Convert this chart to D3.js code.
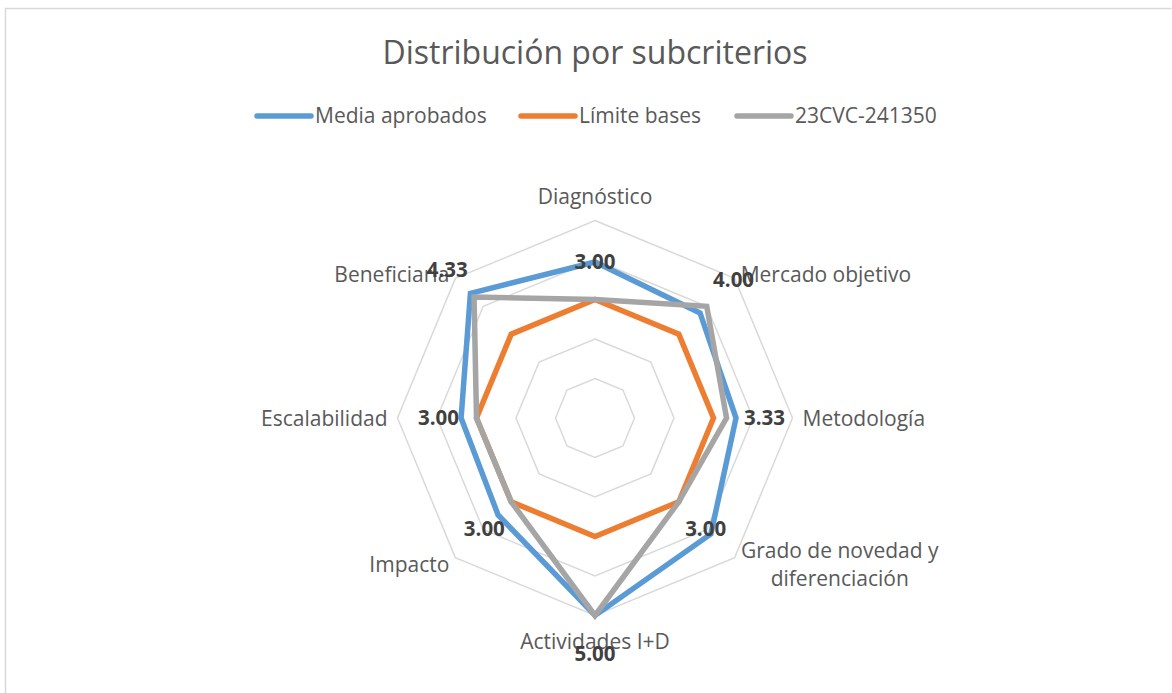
<!DOCTYPE html>
<html>
<head>
<meta charset="utf-8">
<script src="https://cdn.jsdelivr.net/npm/d3@7"></script>
<style>
  body { margin:0; background:#fff; }
  svg text { font-family: "Open Sans", "Noto Sans", sans-serif; }
</style>
</head>
<body>
<div class="svgContainer"></div>
<script>
// categories go clockwise starting at the top
var categories = ["Diagnóstico", "Mercado objetivo", "Metodología", "Grado de novedad y\ndiferenciación",
                  "Actividades I+D", "Impacto", "Escalabilidad", "Beneficiaria"];
var seriesNames  = ["Media aprobados", "Límite bases", "23CVC-241350"];
var mediaAprobados = [3.95, 3.76, 3.57, 4.15, 5.00, 3.47, 3.39, 4.46];
var limiteBases    = [3, 3, 3, 3, 3, 3, 3, 3];
var proyecto       = [3.00, 4.00, 3.33, 3.00, 5.00, 3.00, 3.00, 4.33];
var ringTicks  = [1, 2, 3, 4, 5];
var colors     = ["#5b9bd5", "#ed7d31", "#a5a5a5"];

var width = 1172, height = 693;
var cx = 595, cy = 418, outerR = 197.5;

var svg = d3.select(".svgContainer").append("svg")
  .attr("width", width).attr("height", height);

// chart frame
svg.append("path")
  .attr("d", "M5.5," + height + "V8.5H" + (width - 0.5))
  .attr("fill", "none").attr("stroke", "#d9d9d9").attr("stroke-width", 1.5);

var r = d3.scaleLinear().domain([0, 5]).range([0, outerR]);
var angle = d3.scalePoint().domain(d3.range(categories.length)).range([0, 2 * Math.PI * 7 / 8]);

function px(i, rad) { return cx + rad * Math.sin(angle(i)); }
function py(i, rad) { return cy - rad * Math.cos(angle(i)); }

// grid rings (no spokes in the original)
var ring = d3.lineRadial().curve(d3.curveLinearClosed);
svg.append("g").attr("transform", "translate(" + cx + "," + cy + ")")
  .selectAll("path").data(ringTicks).enter().append("path")
  .attr("d", function(t){ return ring(categories.map(function(c, i){ return [angle(i), r(t)]; })); })
  .attr("fill", "none").attr("stroke", "#d9d9d9").attr("stroke-width", 1.5);

// series
var allSeries = [mediaAprobados, limiteBases, proyecto];
svg.append("g").attr("transform", "translate(" + cx + "," + cy + ")")
  .selectAll("path").data(allSeries).enter().append("path")
  .attr("d", function(s){ return ring(s.map(function(v, i){ return [angle(i), r(v)]; })); })
  .attr("fill", "none")
  .attr("stroke", function(d, i){ return colors[i]; })
  .attr("stroke-width", 5.5)
  .attr("stroke-linejoin", "miter");

// category labels, placed just outside the outer ring
categories.forEach(function(c, i){
  var s = Math.sin(angle(i)), co = Math.cos(angle(i));
  var vx = px(i, outerR), vy = py(i, outerR);
  var anchor = s > 0.1 ? "start" : (s < -0.1 ? "end" : "middle");
  var x = vx + (s > 0.1 ? 6 : (s < -0.1 ? -6 : 0)) + (Math.abs(s) > 0.9 ? 4 * Math.sign(s) : 0);
  var midY;
  if (co > 0.9) midY = vy - 24;
  else if (co < -0.9) midY = vy + 26;
  else if (co > 0.1) midY = vy - 4;
  else if (co < -0.1) midY = vy + 7;
  else midY = vy + 1;
  var lines = c.split("\n");
  var t = svg.append("text")
    .attr("fill", "#595959").attr("font-size", 21)
    .attr("text-anchor", lines.length > 1 ? "middle" : anchor);
  lines.forEach(function(l, k){
    t.append("tspan").attr("x", x).attr("y", midY + (k - (lines.length - 1) / 2) * 28)
      .attr("dy", "0.35em").text(l);
  });
  if (lines.length > 1) {
    // multi-line labels are centred as a block whose left edge sits by the vertex
    var w = t.node().getBBox().width;
    t.selectAll("tspan").attr("x", x + w / 2);
  }
});

// data labels for the 23CVC series
svg.append("g").selectAll("text").data(proyecto).enter().append("text")
  .attr("x", function(v, i){ return px(i, r(v) + 38); })
  .attr("y", function(v, i){ return py(i, r(v) + 38); })
  .attr("dy", "0.35em")
  .attr("text-anchor", "middle")
  .attr("font-size", 20.5).attr("font-weight", "bold").attr("fill", "#404040")
  .text(function(v){ return v.toFixed(2); });

// title
svg.append("text").attr("x", cx).attr("y", 53).attr("dy", "0.35em")
  .attr("text-anchor", "middle").attr("font-size", 32).attr("fill", "#595959")
  .text("Distribución por subcriterios");

// legend
var legendX = [257, 521, 737];
var legend = svg.append("g").selectAll("g").data(seriesNames).enter().append("g")
  .attr("transform", function(d, i){ return "translate(" + legendX[i] + ",116)"; });
legend.append("line").attr("x1", 0).attr("x2", 54)
  .attr("stroke", function(d, i){ return colors[i]; })
  .attr("stroke-width", 5.5).attr("stroke-linecap", "round");
legend.append("text").attr("x", 58).attr("dy", "0.35em")
  .attr("font-size", 21).attr("fill", "#595959")
  .text(function(d){ return d; });
</script>
</body>
</html>
